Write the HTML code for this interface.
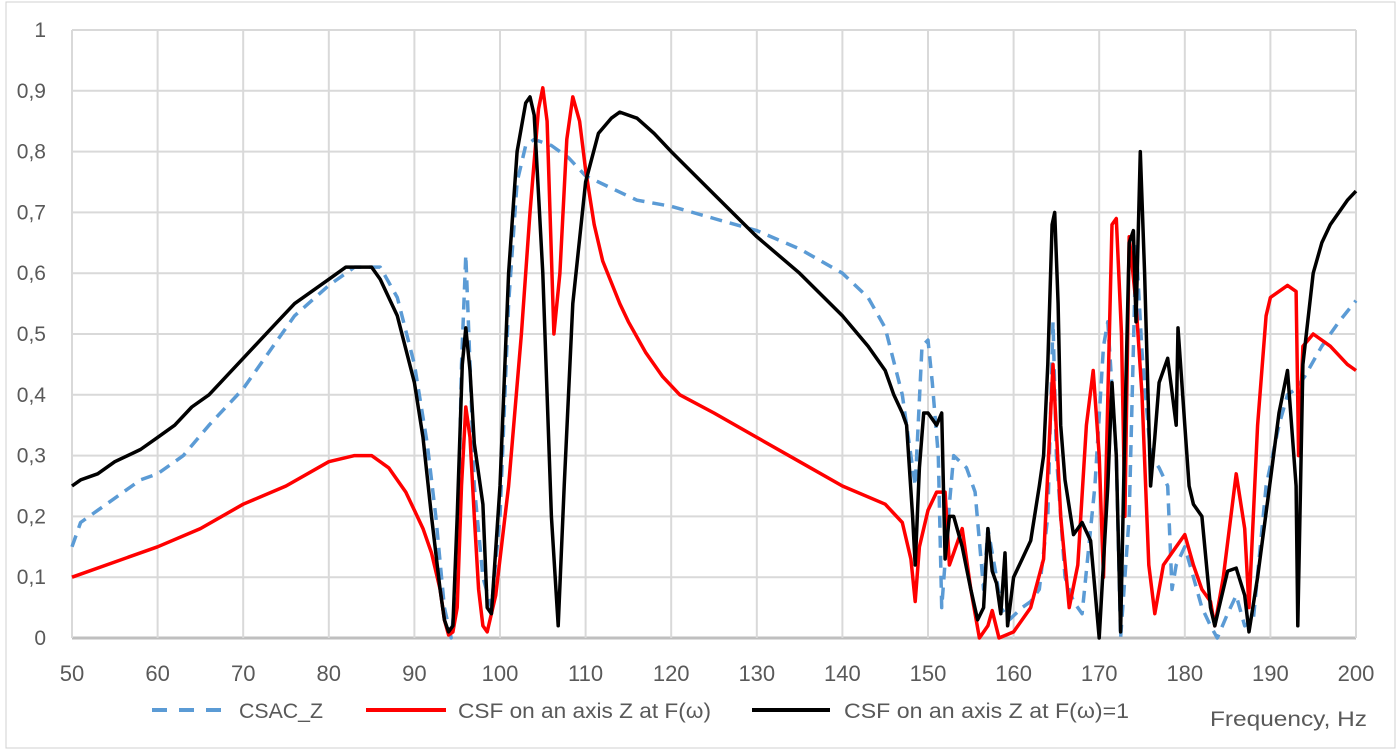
<!DOCTYPE html>
<html><head><meta charset="utf-8"><style>
html,body{margin:0;padding:0;background:#fff}
svg{display:block;font-family:"Liberation Sans",sans-serif}
</style></head><body>
<svg id="chart" width="1398" height="751" viewBox="0 0 1398 751">
<rect x="6" y="2" width="1389" height="746" fill="#fff" stroke="#d0d0d0"/>
<g id="grid"></g>
<g id="yticks"></g>
<g id="xticks"></g>
<g id="series"></g>
<g>
<g><line x1="152" y1="710" x2="228" y2="710" stroke="#5b9bd5" stroke-width="4" stroke-dasharray="15,12"/><text x="239" y="718" font-size="21" fill="#595959" textLength="84" lengthAdjust="spacingAndGlyphs">CSAC_Z</text></g>
<g><line x1="366" y1="710" x2="446" y2="710" stroke="#ff0000" stroke-width="4"/><text x="458" y="718" font-size="21" fill="#595959" textLength="253" lengthAdjust="spacingAndGlyphs">CSF on an axis Z at F(ω)</text></g>
<g><line x1="752" y1="710" x2="830" y2="710" stroke="#000" stroke-width="4"/><text x="844" y="718" font-size="21" fill="#595959" textLength="285" lengthAdjust="spacingAndGlyphs">CSF on an axis Z at F(ω)=1</text></g>
</g>
<text x="1210" y="726" font-size="21" fill="#595959" textLength="157" lengthAdjust="spacingAndGlyphs">Frequency, Hz</text>
</svg>
<script>
const xTicks=[50,60,70,80,90,100,110,120,130,140,150,160,170,180,190,200];
const yTicks=[0,0.1,0.2,0.3,0.4,0.5,0.6,0.7,0.8,0.9,1];
const yTickLabels=["0","0,1","0,2","0,3","0,4","0,5","0,6","0,7","0,8","0,9","1"];
const blackX=[50,51,53,55,58,60,62,64,66,68,70,72,74,76,78,80,82,84,85,86,88,90,91,92,93,93.5,94,94.5,95,95.6,96,96.5,97,98,98.5,99,100,101,102,103,103.5,104,105,106,106.8,107.5,108.5,110,111.5,113,114,116,118,120,125,130,135,140,143,145,146,147,147.5,148.2,148.5,149,149.5,150,151,151.6,152,152.5,153,154,155,155.8,156.5,157,157.5,158,158.5,159,159.3,160,161,162,163,163.5,164,164.5,164.8,165.2,165.5,166,167,168,169,170,171,171.5,172,172.5,173,173.5,174,174.3,174.8,175.3,176,176.5,177,178,179,179.2,180,180.5,181,182,183,183.5,184,185,186,187,187.5,188.5,190,191,192,193,193.2,193.8,195,196,197,198,199,200];
const blackY=[0.25,0.26,0.27,0.29,0.31,0.33,0.35,0.38,0.40,0.43,0.46,0.49,0.52,0.55,0.57,0.59,0.61,0.61,0.61,0.59,0.53,0.42,0.33,0.20,0.08,0.03,0.01,0.02,0.2,0.45,0.51,0.44,0.32,0.22,0.05,0.04,0.25,0.6,0.8,0.88,0.89,0.86,0.6,0.2,0.02,0.25,0.55,0.75,0.83,0.855,0.865,0.855,0.83,0.80,0.73,0.66,0.60,0.53,0.48,0.44,0.40,0.37,0.35,0.20,0.12,0.28,0.37,0.37,0.35,0.37,0.13,0.20,0.20,0.15,0.08,0.03,0.05,0.18,0.11,0.09,0.04,0.14,0.02,0.1,0.13,0.16,0.25,0.30,0.45,0.68,0.70,0.55,0.35,0.26,0.17,0.19,0.16,0.0,0.25,0.42,0.30,0.01,0.35,0.65,0.67,0.52,0.80,0.60,0.25,0.33,0.42,0.46,0.35,0.51,0.35,0.25,0.22,0.20,0.05,0.02,0.05,0.11,0.115,0.07,0.01,0.10,0.26,0.37,0.44,0.25,0.02,0.45,0.60,0.65,0.68,0.70,0.72,0.735];
const redX=[50,55,60,65,70,75,80,83,85,87,89,90,91,92,93,93.5,94,94.5,95,95.5,96,96.5,97,97.5,98,98.5,99.5,101,102.5,103.5,104.5,105,105.5,106.3,107,107.8,108.5,109.3,110,111,112,114,115,117,119,121,125,130,135,140,145,147,148,148.5,149,150,151,152,152.5,153,154,155,156,157,157.5,158.3,160,162,163.5,164.6,165.5,166.5,167.5,168.5,169.3,170,170.5,171.5,172,172.6,173,173.5,174.3,175,175.8,176.5,177.5,179,180,181,182,183,183.5,184.5,186,187,187.5,188.5,189.5,190,192,193,193.3,193.8,195,197,199,200];
const redY=[0.10,0.125,0.15,0.18,0.22,0.25,0.29,0.30,0.30,0.28,0.24,0.21,0.18,0.14,0.08,0.03,0.005,0.01,0.05,0.25,0.38,0.33,0.2,0.08,0.02,0.01,0.07,0.25,0.5,0.7,0.87,0.905,0.85,0.5,0.6,0.82,0.89,0.85,0.77,0.68,0.62,0.55,0.52,0.47,0.43,0.40,0.37,0.33,0.29,0.25,0.22,0.19,0.13,0.06,0.15,0.21,0.24,0.24,0.12,0.14,0.18,0.08,0.0,0.02,0.045,0.0,0.01,0.05,0.13,0.45,0.20,0.05,0.12,0.35,0.44,0.30,0.1,0.68,0.69,0.5,0.2,0.66,0.55,0.4,0.12,0.04,0.12,0.15,0.17,0.12,0.08,0.06,0.02,0.1,0.27,0.18,0.05,0.35,0.53,0.56,0.58,0.57,0.30,0.48,0.50,0.48,0.45,0.44];
const blueX=[50,51,53,55,58,60,63,66,70,73,76,80,83,86,88,90,91.5,92.5,93.5,94.3,95,95.5,96,96.5,97,98,99,100,101,102,103,104,106,108,110,113,116,120,125,130,135,140,143,145,147,148,148.5,149.3,150,150.5,151.2,151.6,152.5,153,154.5,155.5,156.5,157,158,158.5,159.5,161,162,163,164,164.6,165,166,167,168,169.5,170.5,171,172,172.5,173.5,174.3,175,176,177,178,178.5,179,180,181,182,183,183.8,185,186,187,188,189.5,191,192,193,194,196,198,200];
const blueY=[0.15,0.19,0.21,0.23,0.26,0.27,0.30,0.35,0.41,0.47,0.53,0.58,0.61,0.61,0.56,0.45,0.32,0.2,0.05,0.0,0.1,0.45,0.63,0.45,0.25,0.10,0.05,0.2,0.55,0.75,0.81,0.82,0.81,0.79,0.76,0.74,0.72,0.71,0.69,0.67,0.64,0.60,0.56,0.51,0.40,0.30,0.25,0.48,0.49,0.42,0.30,0.05,0.22,0.30,0.28,0.24,0.08,0.18,0.10,0.05,0.03,0.05,0.06,0.08,0.20,0.52,0.30,0.10,0.06,0.04,0.25,0.48,0.52,0.30,0.0,0.20,0.65,0.47,0.30,0.28,0.25,0.08,0.12,0.15,0.10,0.05,0.02,0.0,0.04,0.07,0.02,0.03,0.25,0.35,0.40,0.41,0.43,0.48,0.52,0.555];

const NS="http://www.w3.org/2000/svg";
const X0=72,X1=1356,Y0=638,Y1=30;
function sx(v){return X0+(v-50)/150*(X1-X0);}
function sy(v){return Y0-v*(Y0-Y1);}
function mk(tag,attrs,parent){const e=document.createElementNS(NS,tag);for(const k in attrs)e.setAttribute(k,attrs[k]);parent.appendChild(e);return e;}
const grid=document.getElementById('grid'),yt=document.getElementById('yticks'),xt=document.getElementById('xticks'),ser=document.getElementById('series');
yTicks.forEach((v,i)=>{
  const l=mk('line',{x1:X0,x2:X1,y1:sy(v),y2:sy(v),stroke:v===0?'#bfbfbf':'#d9d9d9','stroke-width':v===0?3:2},grid);
  
  
  const t=mk('text',{x:46,y:sy(v)+7,'text-anchor':'end','font-size':21,fill:'#595959'},yt);
  t.textContent=yTickLabels[i];
  
  
});
xTicks.forEach(v=>{
  const l=mk('line',{x1:sx(v),x2:sx(v),y1:Y1,y2:Y0,stroke:'#d9d9d9','stroke-width':2},grid);
  
  
  const t=mk('text',{x:sx(v),y:681,'text-anchor':'middle','font-size':22,fill:'#595959'},xt);
  t.textContent=String(v);
  
  
});
function draw(xs,ys,color,dash,name){
  const d=xs.map((x,i)=>(i?'L':'M')+sx(x).toFixed(1)+','+sy(ys[i]).toFixed(1)).join('');
  const p=mk('path',{d:d,fill:'none',stroke:color,'stroke-width':3.5,'stroke-linejoin':'round'},ser);
  if(dash)p.setAttribute('stroke-dasharray',dash);
  
  
}
draw(blueX,blueY,'#5b9bd5','12,8','series-csac-z');
draw(redX,redY,'#ff0000',null,'series-csf-f');
draw(blackX,blackY,'#000000',null,'series-csf-f1');
</script>
</body></html>
